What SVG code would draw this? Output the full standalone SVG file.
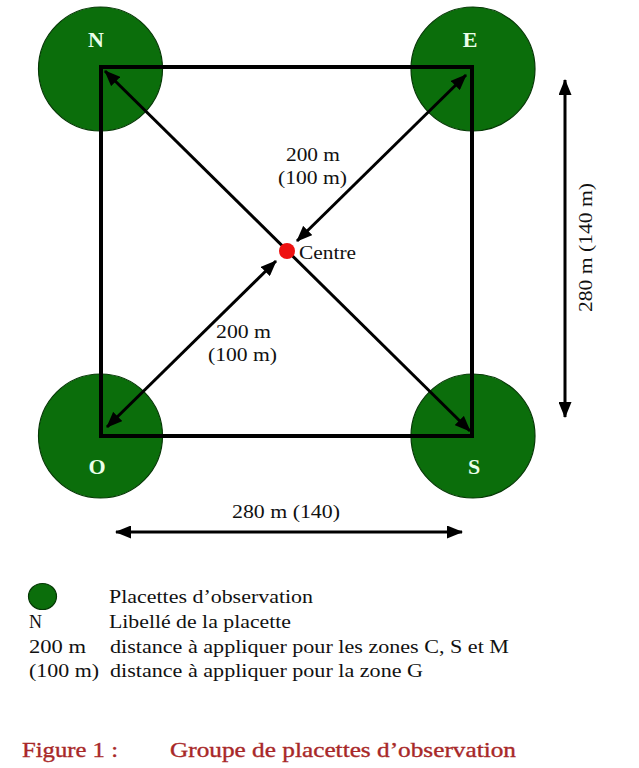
<svg xmlns="http://www.w3.org/2000/svg" width="639" height="768" viewBox="0 0 639 768">
<style>
text{font-family:"Liberation Serif","Times New Roman",serif;fill:#111}
.t{font-size:18px}
.lbl{font-size:22px;font-weight:bold;fill:#eaffea;text-anchor:middle}
.plac{fill:#0b6e0b;stroke:#053805;stroke-width:1.2}
.sq{fill:none;stroke:#000;stroke-width:4;stroke-linejoin:miter}
.ar{stroke:#000;stroke-width:3;fill:none;marker-start:url(#ah);marker-end:url(#ah)}
.title{font-size:21px;fill:#a82828;stroke:#a82828;stroke-width:0.35}
</style>
<defs>
<marker id="ah" markerUnits="userSpaceOnUse" markerWidth="16" markerHeight="13" viewBox="0 0 16 13" refX="15" refY="6.5" orient="auto-start-reverse">
<path d="M0,0 L16,6.5 L0,13 z" fill="#000"/>
</marker>
</defs>
<rect width="639" height="768" fill="#fff"/>
<g id="node-N"><circle class="plac" cx="100.5" cy="69" r="62"/><text class="lbl" x="96" y="47">N</text></g>
<g id="node-E"><circle class="plac" cx="473" cy="69" r="62"/><text class="lbl" x="470" y="47">E</text></g>
<g id="node-O"><circle class="plac" cx="100.5" cy="436" r="62"/><text class="lbl" x="97" y="474">O</text></g>
<g id="node-S"><circle class="plac" cx="473" cy="436" r="62"/><text class="lbl" x="474" y="474">S</text></g>
<g id="square"><rect class="sq" x="101" y="67" width="371" height="369"/></g>
<g id="connectors">
<line class="ar" x1="105" y1="71" x2="470" y2="431"/>
<line class="ar" x1="466" y1="75" x2="297" y2="241"/>
<line class="ar" x1="107" y1="427" x2="276" y2="261"/>
<line class="ar" x1="116" y1="532" x2="462" y2="532"/>
<line class="ar" x1="565" y1="80" x2="565" y2="417"/>
</g>
<g id="centre">
<circle cx="287" cy="251" r="8" fill="#ee1111"/>
<text class="t" x="299" y="259" textLength="57" lengthAdjust="spacingAndGlyphs">Centre</text>
</g>
<g id="labels">
<text class="t" x="286" y="161" textLength="54" lengthAdjust="spacingAndGlyphs">200 m</text>
<text class="t" x="278" y="184" textLength="69" lengthAdjust="spacingAndGlyphs">(100 m)</text>
<text class="t" x="216" y="338" textLength="55" lengthAdjust="spacingAndGlyphs">200 m</text>
<text class="t" x="208" y="361" textLength="69" lengthAdjust="spacingAndGlyphs">(100 m)</text>
<text class="t" x="232" y="518" textLength="108" lengthAdjust="spacingAndGlyphs">280 m (140)</text>
<text class="t" transform="translate(592,312) rotate(-90)" x="0" y="0" textLength="129" lengthAdjust="spacingAndGlyphs">280 m (140 m)</text>
</g>
<g id="legend">
<ellipse class="plac" cx="42.5" cy="596.5" rx="14" ry="13"/>
<text class="t" x="109" y="603" textLength="204" lengthAdjust="spacingAndGlyphs">Placettes d’observation</text>
<text class="t" x="29" y="628">N</text>
<text class="t" x="109" y="628" textLength="182" lengthAdjust="spacingAndGlyphs">Libellé de la placette</text>
<text class="t" x="29" y="653" textLength="57" lengthAdjust="spacingAndGlyphs">200 m</text>
<text class="t" x="110" y="653" textLength="399" lengthAdjust="spacingAndGlyphs">distance à appliquer pour les zones C, S et M</text>
<text class="t" x="29" y="677" textLength="70" lengthAdjust="spacingAndGlyphs">(100 m)</text>
<text class="t" x="110" y="677" textLength="313" lengthAdjust="spacingAndGlyphs">distance à appliquer pour la zone G</text>
</g>
<g id="caption">
<text class="title" x="22" y="757" textLength="96" lengthAdjust="spacingAndGlyphs">Figure 1 :</text>
<text class="title" x="170" y="757" textLength="346" lengthAdjust="spacingAndGlyphs">Groupe de placettes d’observation</text>
</g>
</svg>
